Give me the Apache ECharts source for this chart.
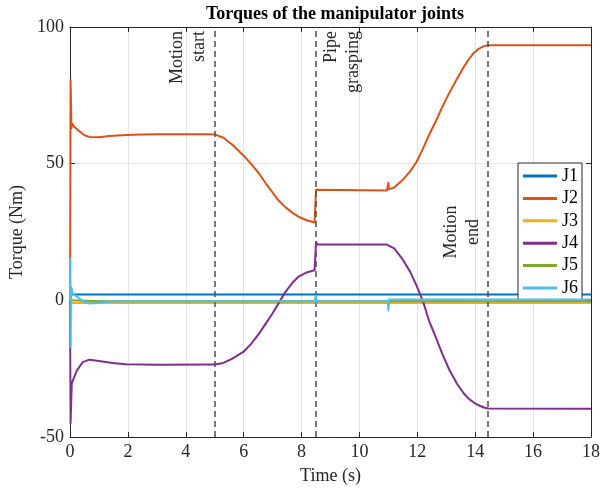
<!DOCTYPE html>
<html>
<head>
<meta charset="utf-8">
<title>Torques of the manipulator joints</title>
<script src="https://cdn.jsdelivr.net/npm/echarts@6/dist/echarts.min.js"></script>
<style>
	html, body { margin: 0; padding: 0; background: #fff; }
	#chart { width: 611px; height: 491px; }
</style>
</head>
<body>
<div id="chart"></div>
<script>
	// time (s) / torque (Nm) samples
	var j1Time = [0, 18];
	var j1Torque = [2.1, 2.1];

	var j2Time = [0, 0.02, 0.05, 0.08, 0.15, 0.33, 0.5, 0.67, 1.0, 1.36, 1.93, 2.5, 3, 4, 4.8, 5,
		5.3, 5.61, 6.0, 6.25, 6.53, 6.75, 6.99, 7.2, 7.45, 7.7, 7.91, 8.2, 8.45, 8.5,
		8.5, 8.55, 10.95, 11.0, 11.02, 11.2, 11.48, 11.75, 11.97, 12.2, 12.4, 12.65, 12.86,
		13.1, 13.37, 13.6, 13.78, 13.95, 14.12, 14.3, 14.45, 18];
	var j2Torque = [0, 80.7, 63, 64.6, 63.5, 61.8, 60.4, 59.8, 59.7, 60.1, 60.5, 60.7, 60.8, 60.8, 60.8, 60.7,
		59.5, 56.9, 52.9, 50.0, 46.4, 43.0, 39.6, 36.6, 34.0, 31.9, 30.5, 29.2, 28.5, 28.5,
		40.5, 40.2, 40.2, 43.0, 40.6, 41.3, 43.9, 47.2, 50.6, 55.6, 60.4, 65.8, 70.7,
		75.8, 81.1, 85.3, 88.2, 90.5, 92.0, 93.0, 93.3, 93.3];

	var j3Time = [0, 18];
	var j3Torque = [-1.0, -1.0];

	var j4Time = [0, 0.02, 0.06, 0.1, 0.24, 0.44, 0.67, 1.0, 1.47, 1.93, 3, 4.8, 5,
		5.3, 5.61, 6.0, 6.25, 6.53, 6.75, 6.99, 7.2, 7.45, 7.7, 7.91, 8.2, 8.45, 8.5,
		8.5, 8.55, 10.95, 11.0, 11.2, 11.48, 11.75, 11.97, 12.2, 12.4, 12.65, 12.86,
		13.1, 13.37, 13.6, 13.78, 13.95, 14.12, 14.3, 14.45, 18];
	var j4Torque = [0, -45, -30.5, -29.3, -25.6, -22.6, -21.7, -22.2, -22.9, -23.4, -23.6, -23.5, -23.5,
		-22.9, -21.3, -18.8, -16.0, -12.2, -8.7, -4.9, -1.2, 3.2, 6.6, 8.8, 10.3, 11.0, 11.0,
		21.3, 20.4, 20.4, 20.1, 19.0, 15.2, 10.5, 5.5, -0.5, -7.3, -13.8, -19.5,
		-25.3, -30.5, -34.0, -36.0, -37.4, -38.4, -39.2, -39.6, -39.7];

	var j5Time = [0, 0.03, 1, 18];
	var j5Torque = [0, -0.4, -0.3, -0.3];

	var j6Time = [0, 0.01, 0.02, 0.04, 0.1, 0.33, 0.5, 0.67, 1.0, 1.36, 2, 8.45, 8.5, 8.52, 8.55,
		10.98, 11.0, 11.02, 18];
	var j6Torque = [0, 15.2, -17.1, 4.9, 2.4, 0.6, -0.6, -1.2, -1.0, -0.4, -0.3, -0.3, 1.8, -1.2, -0.2,
		-0.2, -3.7, 0.3, 0.3];

	var jointNames = ['J1', 'J2', 'J3', 'J4', 'J5', 'J6'];
	var jointColors = ['#0072BD', '#D95319', '#EDB120', '#7E2F8E', '#77AC30', '#4DBEEE'];

	// event markers: time (s) and label
	var eventTimes = [5, 8.5, 14.45];
	var eventLabels = ['Motion\nstart', 'Pipe\ngrasping', 'Motion\nend'];

	var xTicks = { min: 0, max: 18, interval: 2 };
	var yTicks = { min: -50, max: 100, interval: 50 };

	function pairs(t, y) {
		var out = [];
		for (var i = 0; i < t.length; i++) {
			out.push([t[i], y[i]]);
		}
		return out;
	}

	var FONT = '"Liberation Serif", "Times New Roman", serif';
	var AXIS_COLOR = '#262626';

	var chart = echarts.init(document.getElementById('chart'));

	var allData = [
		pairs(j1Time, j1Torque),
		pairs(j2Time, j2Torque),
		pairs(j3Time, j3Torque),
		pairs(j4Time, j4Torque),
		pairs(j5Time, j5Torque),
		pairs(j6Time, j6Torque)
	];

	var labelPos = ['insideEndTop', 'insideEndBottom', 'insideMiddleTop'];
	var markData = eventTimes.map(function(t, i) {
		return {
			xAxis: t,
			label: {
				show: true,
				formatter: eventLabels[i],
				position: labelPos[i]
			}
		};
	});

	var series = jointNames.map(function(name, i) {
		var s = {
			name: name,
			type: 'line',
			data: allData[i],
			showSymbol: false,
			symbol: 'none',
			animation: false,
			lineStyle: { width: 2, color: jointColors[i], join: 'round' },
			itemStyle: { color: jointColors[i] },
			z: 2 + i
		};
		if (i === jointNames.length - 1) {
			s.markLine = {
				silent: true,
				symbol: 'none',
				animation: false,
				lineStyle: { color: '#4d4d4d', type: [6, 4], width: 1.5 },
				label: {
					color: AXIS_COLOR,
					fontFamily: FONT,
					fontSize: 18,
					lineHeight: 22,
					distance: 4
				},
				data: markData
			};
		}
		return s;
	});

	var option = {
		backgroundColor: '#fff',
		animation: false,
		title: {
			text: 'Torques of the manipulator joints',
			left: 330,
			textAlign: 'center',
			top: 0,
			textStyle: { fontFamily: FONT, fontSize: 18, fontWeight: 'bold', color: '#000' }
		},
		grid: { left: 70, right: 20, top: 27, bottom: 54 },
		legend: {
			data: jointNames,
			orient: 'vertical',
			left: 518,
			top: 163,
			icon: 'rect',
			itemWidth: 34,
			itemHeight: 3,
			itemGap: 4.4,
			padding: [4, 4, 3, 5],
			backgroundColor: '#fff',
			borderColor: AXIS_COLOR,
			borderWidth: 1,
			borderRadius: 0,
			textStyle: { fontFamily: FONT, fontSize: 18, color: '#000' }
		},
		xAxis: [{
			type: 'value',
			min: xTicks.min,
			max: xTicks.max,
			interval: xTicks.interval,
			name: 'Time (s)',
			nameLocation: 'middle',
			nameGap: 30,
			nameTextStyle: { fontFamily: FONT, fontSize: 18, color: AXIS_COLOR },
			axisLine: { show: true, onZero: false, lineStyle: { color: AXIS_COLOR, width: 1 } },
			axisTick: { show: true, inside: true, length: 5, lineStyle: { color: AXIS_COLOR } },
			axisLabel: { fontFamily: FONT, fontSize: 18, color: AXIS_COLOR, margin: 6 },
			splitLine: { show: true, lineStyle: { color: '#e3e3e3', width: 1 } }
		}, {
			type: 'value',
			position: 'top',
			min: xTicks.min,
			max: xTicks.max,
			interval: xTicks.interval,
			axisLine: { show: true, onZero: false, lineStyle: { color: AXIS_COLOR, width: 1 } },
			axisTick: { show: true, inside: true, length: 5, lineStyle: { color: AXIS_COLOR } },
			axisLabel: { show: false },
			splitLine: { show: false }
		}],
		yAxis: [{
			type: 'value',
			min: yTicks.min,
			max: yTicks.max,
			interval: yTicks.interval,
			name: 'Torque (Nm)',
			nameLocation: 'middle',
			nameGap: 38,
			nameTextStyle: { fontFamily: FONT, fontSize: 18, color: AXIS_COLOR },
			axisLine: { show: true, onZero: false, lineStyle: { color: AXIS_COLOR, width: 1 } },
			axisTick: { show: true, inside: true, length: 5, lineStyle: { color: AXIS_COLOR } },
			axisLabel: { fontFamily: FONT, fontSize: 18, color: AXIS_COLOR, margin: 6 },
			splitLine: { show: true, lineStyle: { color: '#e3e3e3', width: 1 } }
		}, {
			type: 'value',
			position: 'right',
			min: yTicks.min,
			max: yTicks.max,
			interval: yTicks.interval,
			axisLine: { show: true, onZero: false, lineStyle: { color: AXIS_COLOR, width: 1 } },
			axisTick: { show: true, inside: true, length: 5, lineStyle: { color: AXIS_COLOR } },
			axisLabel: { show: false },
			splitLine: { show: false }
		}],
		series: series
	};

	chart.setOption(option);
	window.addEventListener('resize', function() {
		chart.resize();
	});
</script>
</body>
</html>
